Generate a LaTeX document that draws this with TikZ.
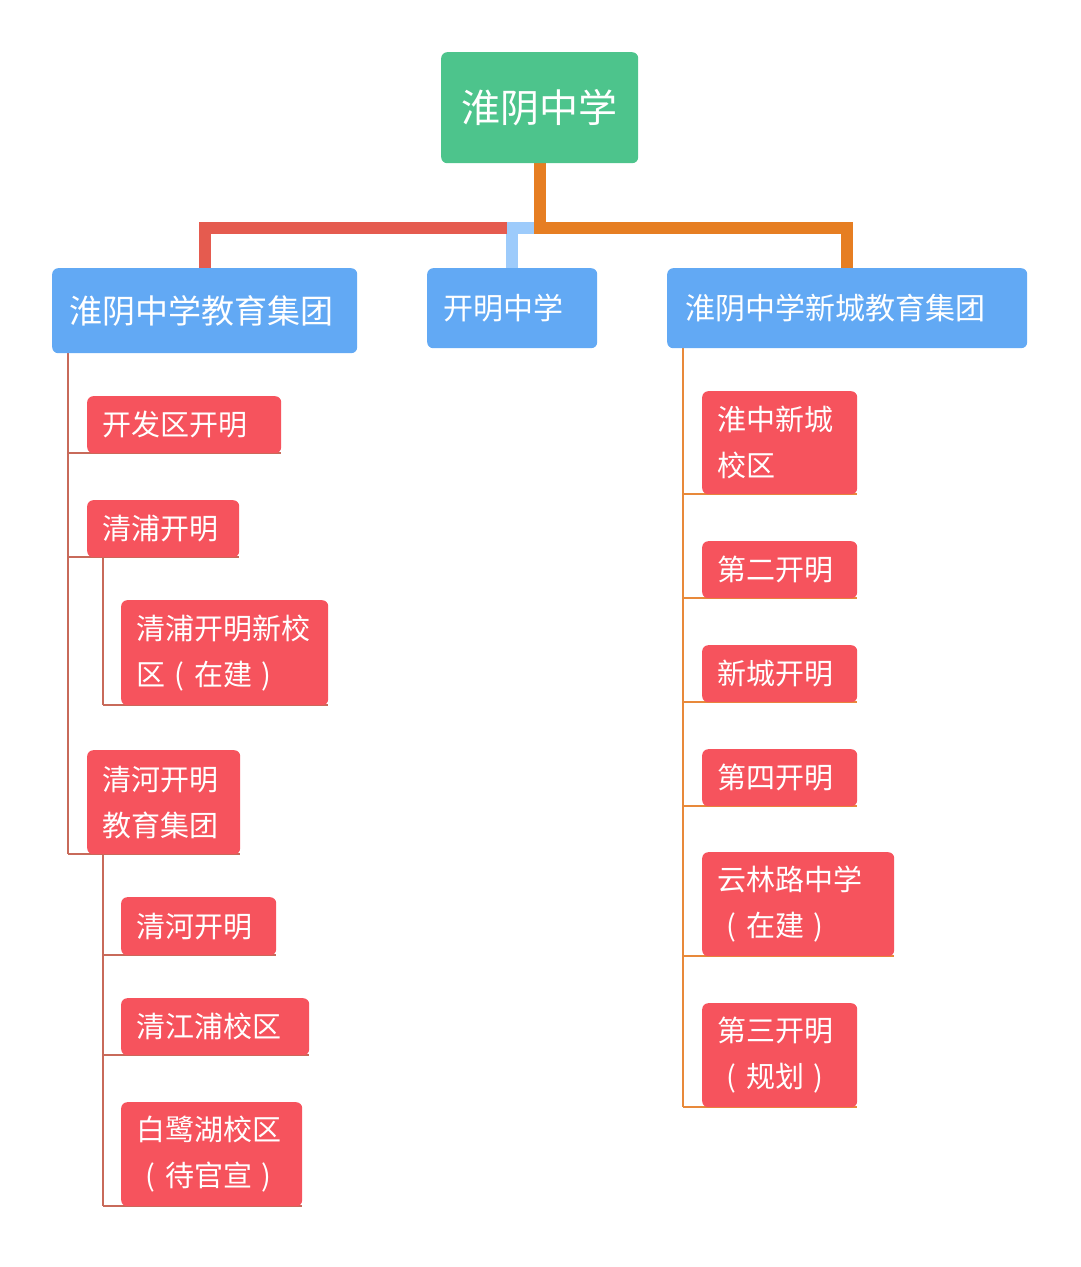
\documentclass[tikz,border=0pt]{standalone}
\usepackage{fontspec}
\setmainfont{Noto Sans CJK SC}
\pgfdeclarelayer{bg}
\pgfsetlayers{bg,main}
\definecolor{rootgreen}{HTML}{4DC48C}
\definecolor{lvblue}{HTML}{62A9F4}
\definecolor{leafred}{HTML}{F6535D}
\definecolor{linkred}{HTML}{E55B4F}
\definecolor{linkorange}{HTML}{E67E22}
\definecolor{linkblue}{HTML}{9DCBFB}
\definecolor{thinred}{HTML}{C86A5A}
\definecolor{thinorange}{HTML}{E8893A}
\newcommand\myLP{\makebox[1em]{(}}
\newcommand\myRP{\makebox[1em]{)}}
\tikzset{
  box/.style={anchor=north west, rounded corners=6pt, text=white, align=left,
    inner xsep=15pt, inner ysep=0pt},
  rootbox/.style={box, fill=rootgreen, font=\fontsize{39pt}{46pt}\selectfont, inner xsep=20pt},
  midbox/.style={box, fill=lvblue, font=\fontsize{30pt}{46pt}\selectfont, inner xsep=17pt},
  leafbox/.style={box, fill=leafred, font=\fontsize{29pt}{46pt}\selectfont},
  thick link/.style={line width=12pt, line join=miter},
  lthin/.style={draw=thinred, line width=2pt},
  rthin/.style={draw=thinorange, line width=2pt},
}
\begin{document}
\begin{tikzpicture}[x=1pt,y=-1pt]
\useasboundingbox (0,0) rectangle (1080,1267);
% root and level 1
\node[rootbox, text width=157pt, minimum height=111pt] (R) at (441,52) {淮阴中学};
\node[midbox, font=\fontsize{33pt}{46pt}\selectfont, inner xsep=17pt, text width=271pt, minimum height=85pt] (L1) at (52,268) {淮阴中学教育集团};
\node[midbox, inner xsep=16pt, text width=138pt, minimum height=80pt] (L2) at (427,268) {开明中学};
\node[midbox, inner xsep=18pt, text width=324pt, minimum height=80pt] (L3) at (667,268) {淮阴中学新城教育集团};
% left subtree
\node[leafbox, text width=164pt, minimum height=57pt] (a1) at (87,396) {开发区开明};
\node[leafbox, text width=122pt, minimum height=57pt] (a2) at (87,500) {清浦开明};
\node[leafbox, text width=177pt, minimum height=105pt] (a21) at (121,600) {清浦开明新校\\区\myLP 在建\myRP};
\node[leafbox, text width=123pt, minimum height=104pt] (a3) at (87,750) {清河开明\\教育集团};
\node[leafbox, text width=125pt, minimum height=58pt] (a31) at (121,897) {清河开明};
\node[leafbox, text width=158pt, minimum height=57pt] (a32) at (121,998) {清江浦校区};
\node[leafbox, text width=151pt, minimum height=104pt] (a33) at (121,1102) {白鹭湖校区\\\myLP 待官宣\myRP};
% right subtree
\node[leafbox, text width=125pt, minimum height=103pt] (b1) at (702,391) {淮中新城\\校区};
\node[leafbox, text width=125pt, minimum height=57pt] (b2) at (702,541) {第二开明};
\node[leafbox, text width=125pt, minimum height=57pt] (b3) at (702,645) {新城开明};
\node[leafbox, text width=125pt, minimum height=57pt] (b4) at (702,749) {第四开明};
\node[leafbox, text width=162pt, minimum height=104pt] (b5) at (702,852) {云林路中学\\\myLP 在建\myRP};
\node[leafbox, text width=125pt, minimum height=104pt] (b6) at (702,1003) {第三开明\\\myLP 规划\myRP};
% junction coordinates
\coordinate (J) at (541,228);
\coordinate (Jl) at (507,228);
\coordinate (Tl) at (68,353);
\coordinate (Tl2) at (103,557);
\coordinate (Tl3) at (103,854);
\coordinate (Tr) at (683,348);
\begin{pgfonlayer}{bg}
  % thick top connectors
  \draw[thick link, linkblue] (J) -| (L2.north);
  \draw[thick link, linkred] (Jl) -| (L1.north);
  \draw[thick link, linkorange] (R.south) |- (J) -| (L3.north);
  % left tree
  \draw[lthin] (Tl) -- (Tl |- a3.south);
  \foreach \n in {a1,a2,a3} \draw[lthin] (Tl |- \n.south) -- (\n.south east);
  \draw[lthin] (Tl2) -- (Tl2 |- a21.south);
  \draw[lthin] (Tl2 |- a21.south) -- (a21.south east);
  \draw[lthin] (Tl3) -- (Tl3 |- a33.south);
  \foreach \n in {a31,a32,a33} \draw[lthin] (Tl3 |- \n.south) -- (\n.south east);
  % right tree
  \draw[rthin] (Tr) -- (Tr |- b6.south);
  \foreach \n in {b1,b2,b3,b4,b5,b6} \draw[rthin] (Tr |- \n.south) -- (\n.south east);
\end{pgfonlayer}
\end{tikzpicture}
\end{document}
